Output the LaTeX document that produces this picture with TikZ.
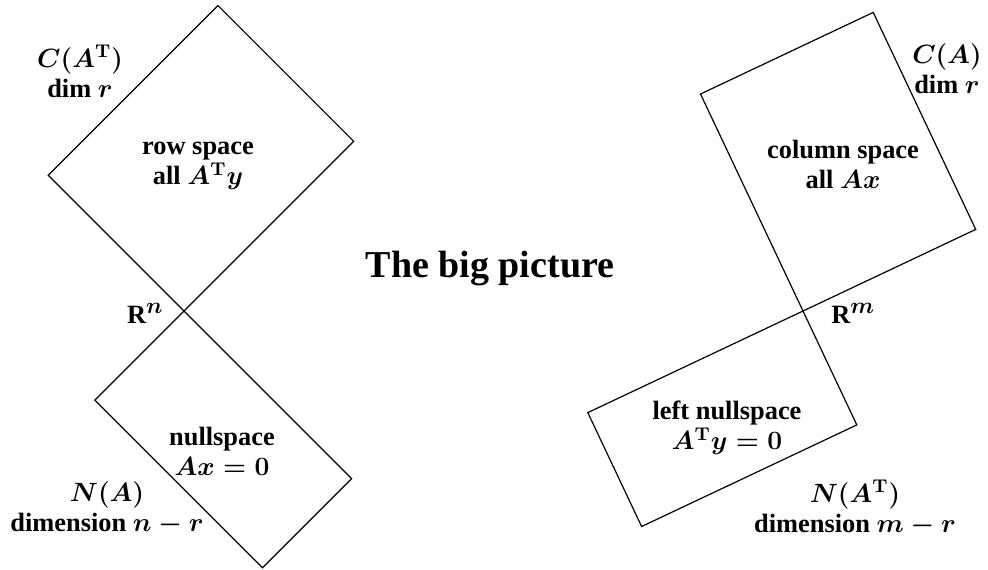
\RequirePackage{fix-cm}
\documentclass[tikz,border=0pt]{standalone}
\usepackage[no-math]{fontspec}
\setmainfont{Liberation Serif}
\usetikzlibrary{positioning}

\newcommand{\bigsup}[1]{^{\mbox{\fontsize{11.5}{12}\selectfont$#1$}}}

\begin{document}
\begin{tikzpicture}[
    x=0.5pt, y=-0.5pt,
    space/.style={
        draw=black,
        line width=0.6pt
    },
    lbl/.style={
        align=center,
        inner sep=0pt,
        font=\bfseries\boldmath\fontsize{13.2}{15}\selectfont
    },
    bigtitle/.style={
        inner sep=0pt,
        font=\bfseries\fontsize{19}{23}\selectfont
    }
]
\useasboundingbox (0,0) rectangle (988,569);

% === LEFT: R^n ===

% corners
\coordinate (on) at (184,311);
\coordinate (rsR) at (353.7,141.3);
\coordinate (rsT) at (217.9,5.5);
\coordinate (rsL) at (48.2,175.2);
\coordinate (nsR) at (351.6,478.6);
\coordinate (nsB) at (262.5,567.7);
\coordinate (nsL) at (94.9,400.1);

% row space and nullspace
\draw[space] (on) -- (rsR) -- (rsT) -- (rsL) -- cycle;
\draw[space] (on) -- (nsR) -- (nsB) -- (nsL) -- cycle;

\node[lbl] (cat) at (80,71) {$C(A^{\mathrm T})$\\dim $r$};
\node[lbl] (row) at (198,166) {row space\\all $A^{\mathrm T}y$};
\node[lbl, anchor=base east] (rn) at (164,323) {R$\bigsup{n}$};
\node[lbl] (null) at (222,451) {nullspace\\$Ax=0$};
\node[lbl] (na) at (107,508) {$N(A)$\\dimension $n-r$};

% === TITLE ===
\node[bigtitle, anchor=base] (title) at (490,277) {The big picture};

% === RIGHT: R^m ===

% corners
\coordinate (om) at (803,311);
\coordinate (csR) at (975.7,229.4);
\coordinate (csT) at (873.2,12.4);
\coordinate (csL) at (700.5,94);
\coordinate (lnR) at (856.8,424.9);
\coordinate (lnB) at (641.6,526.5);
\coordinate (lnL) at (587.8,412.6);

% column space and left nullspace
\draw[space] (om) -- (csR) -- (csT) -- (csL) -- cycle;
\draw[space] (om) -- (lnR) -- (lnB) -- (lnL) -- cycle;

\node[lbl] (ca) at (947,69) {$C(A)$\\dim $r$};
\node[lbl] (col) at (843,164) {column space\\all $Ax$};
\node[lbl, anchor=base west] (rm) at (831,323) {R$\bigsup{m}$};
\node[lbl] (lnull) at (727,428) {left nullspace\\$A^{\mathrm T}y=0$};
\node[lbl] (nat) at (855,508) {$N(A^{\mathrm T})$\\dimension $m-r$};

\end{tikzpicture}
\end{document}
